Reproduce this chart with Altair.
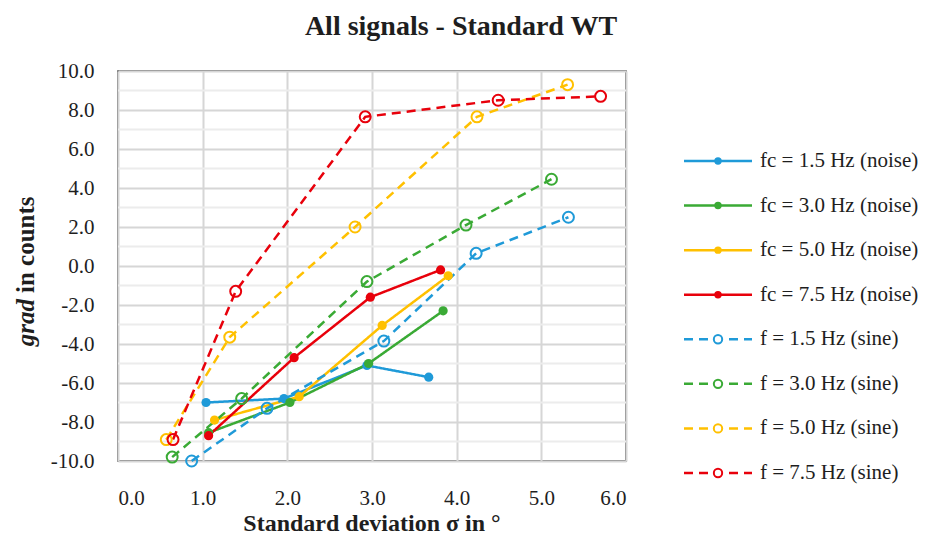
import altair as alt
import pandas as pd

# ---------------- data ----------------
SERIES = [
    "fc = 1.5 Hz (noise)",
    "fc = 3.0 Hz (noise)",
    "fc = 5.0 Hz (noise)",
    "fc = 7.5 Hz (noise)",
    "f = 1.5 Hz (sine)",
    "f = 3.0 Hz (sine)",
    "f = 5.0 Hz (sine)",
    "f = 7.5 Hz (sine)",
]
TYPES = ["noise", "noise", "noise", "noise", "sine", "sine", "sine", "sine"]
COLORS = ["#1f9ad8", "#3aaa35", "#ffc000", "#e8000b",
          "#1f9ad8", "#3aaa35", "#ffc000", "#e8000b"]

SIGMA = [
    [1.04, 1.96, 2.94, 3.67],
    [1.07, 2.03, 2.96, 3.84],
    [1.14, 2.14, 3.12, 3.90],
    [1.07, 2.08, 2.98, 3.81],
    [0.87, 1.76, 3.14, 4.23, 5.32],
    [0.64, 1.46, 2.94, 4.11, 5.12],
    [0.57, 1.32, 2.80, 4.24, 5.31],
    [0.65, 1.39, 2.92, 4.49, 5.70],
]
GRAD = [
    [-7.0, -6.8, -5.1, -5.7],
    [-8.55, -7.0, -5.0, -2.3],
    [-7.9, -6.7, -3.05, -0.5],
    [-8.7, -4.7, -1.6, -0.2],
    [-10.0, -7.3, -3.85, 0.65, 2.5],
    [-9.8, -6.8, -0.8, 2.1, 4.45],
    [-8.9, -3.65, 2.0, 7.65, 9.3],
    [-8.9, -1.3, 7.65, 8.5, 8.7],
]

X_TICKS = [0, 1, 2, 3, 4, 5, 6]
Y_TICKS = [-10, -8, -6, -4, -2, 0, 2, 4, 6, 8, 10]
Y_MINOR = [-9, -7, -5, -3, -1, 1, 3, 5, 7, 9]

TITLE = "All signals - Standard WT"
X_TITLE = "Standard deviation σ in °"
Y_TITLE_IT = "grad"
Y_TITLE_REST = "in counts"

FONT = "Liberation Serif"
TXT = "#1e1e1e"

rows = []
for s, t, xs, ys in zip(SERIES, TYPES, SIGMA, GRAD):
    for i, (x, y) in enumerate(zip(xs, ys)):
        rows.append({"series": s, "type": t, "sigma": x, "grad": y, "order": i})
df = pd.DataFrame(rows)
leg = pd.DataFrame({"series": SERIES, "type": TYPES, "idx": list(range(len(SERIES)))})
minor = pd.DataFrame({"grad": Y_MINOR})

color = alt.Color("series:N", scale=alt.Scale(domain=SERIES, range=COLORS), legend=None)
dash = alt.StrokeDash("type:N", scale=alt.Scale(domain=["noise", "sine"], range=[[1, 0], [9, 6]]),
                      legend=None)

LBL = "datum.value < 0 ? '-' + format(abs(datum.value), '.1f') : format(datum.value, '.1f')"

x_enc = alt.X("sigma:Q", scale=alt.Scale(domain=[0, 6], nice=False),
              axis=alt.Axis(values=X_TICKS, labelExpr=LBL, title=None, labelPadding=26,
                            labelOverlap=False))
y_enc = alt.Y("grad:Q", scale=alt.Scale(domain=[-10, 10], nice=False),
              axis=alt.Axis(values=Y_TICKS, labelExpr=LBL, title=None, labelPadding=24,
                            labelOverlap=False))

minor_rules = alt.Chart(minor).mark_rule(color="#ececec", strokeWidth=2).encode(
    y=y_enc
)
lines = alt.Chart(df).mark_line(strokeWidth=2.5).encode(
    x=x_enc, y=y_enc, color=color, strokeDash=dash, detail="series:N", order="order:Q"
)
pts_noise = alt.Chart(df).transform_filter(alt.datum.type == "noise").mark_point(
    filled=True, size=85, opacity=1, shape="circle"
).encode(x=x_enc, y=y_enc, color=color)
pts_sine = alt.Chart(df).transform_filter(alt.datum.type == "sine").mark_point(
    filled=False, size=120, strokeWidth=2, opacity=1, shape="circle"
).encode(x=x_enc, y=y_enc, color=color)

main = alt.layer(minor_rules, lines, pts_noise, pts_sine)

# ---------------- custom legend ----------------
ly = alt.Y("idx:Q", scale=alt.Scale(domain=[0, 7], range=[90, 402]), axis=None)
leg_line = alt.Chart(leg).mark_rule(strokeWidth=2.5).encode(
    x=alt.value(566), x2=alt.value(634), y=ly, color=color, strokeDash=dash
)
leg_noise = alt.Chart(leg).transform_filter(alt.datum.type == "noise").mark_point(
    filled=True, size=55, opacity=1, shape="circle"
).encode(x=alt.value(600), y=ly, color=color)
leg_sine = alt.Chart(leg).transform_filter(alt.datum.type == "sine").mark_point(
    filled=False, fill="white", fillOpacity=1, size=70, strokeWidth=2, opacity=1, shape="circle"
).encode(x=alt.value(600), y=ly, color=color)
leg_text = alt.Chart(leg).mark_text(
    align="left", baseline="middle", font=FONT, fontSize=21, color=TXT
).encode(x=alt.value(642), y=ly, text="series:N")

legend = alt.layer(leg_line, leg_noise, leg_sine, leg_text)

# ---------------- titles ----------------
t_main = alt.Chart(pd.DataFrame({"t": [TITLE]})).mark_text(
    align="center", baseline="alphabetic", font=FONT, fontSize=28, fontWeight="bold", color=TXT
).encode(x=alt.value(343), y=alt.value(-36), text="t:N")
t_x = alt.Chart(pd.DataFrame({"t": [X_TITLE]})).mark_text(
    align="center", baseline="alphabetic", font=FONT, fontSize=24, fontWeight="bold", color=TXT
).encode(x=alt.value(254), y=alt.value(460), text="t:N")
t_y1 = alt.Chart(pd.DataFrame({"t": [Y_TITLE_IT]})).mark_text(
    align="right", baseline="middle", angle=270, dx=-3, font=FONT, fontSize=25,
    fontWeight="bold", fontStyle="italic", color=TXT
).encode(x=alt.value(-92), y=alt.value(225), text="t:N")
t_y2 = alt.Chart(pd.DataFrame({"t": [Y_TITLE_REST]})).mark_text(
    align="left", baseline="middle", angle=270, dx=3, font=FONT, fontSize=25,
    fontWeight="bold", color=TXT
).encode(x=alt.value(-92), y=alt.value(225), text="t:N")

chart = alt.layer(main, legend, t_main, t_x, t_y1, t_y2).resolve_scale(
    y="independent"
).properties(
    width=508, height=390,
    padding={"left": 110, "top": 63, "right": 292, "bottom": 76},
    autosize=alt.AutoSizeParams(type="none"),
    background="white",
).configure_view(
    stroke="#3a3a3a", strokeWidth=1.5
).configure_axis(
    grid=True, gridColor="#d6d6d6", gridWidth=2, domain=False, ticks=False,
    labelFont=FONT, labelFontSize=21, labelColor=TXT, labelOverlap=False
)

chart.save("out.html", embed_options={"renderer": "svg", "actions": False})
